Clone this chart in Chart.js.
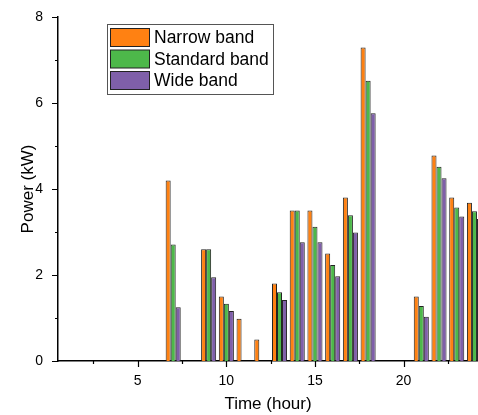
<!DOCTYPE html>
<html>
<head>
<meta charset="utf-8">
<script src="https://cdn.jsdelivr.net/npm/chart.js@4"></script>
<style>
  html, body { margin: 0; padding: 0; background: #fff; overflow: hidden; }
  #wrap { width: 478px; height: 415px; }
</style>
</head>
<body>
<div id="wrap"><canvas id="powerChart" width="478" height="415"></canvas></div>
<script>
// Data
const hours = [1, 2, 3, 4, 5, 6, 7, 8, 9, 10, 11, 12, 13, 14, 15, 16, 17, 18, 19, 20, 21, 22, 23, 24];
const narrowBand   = [null, null, null, null, null, null, 4.2, null, 2.6, 1.5, 0.98, 0.5, 1.8, 3.5, 3.5, 2.5, 3.8, 7.29, null, null, 1.5, 4.78, 3.8, 3.68];
const standardBand = [null, null, null, null, null, null, 2.71, null, 2.6, 1.33, null, null, 1.6, 3.5, 3.12, 2.23, 3.39, 6.52, null, null, 1.28, 4.52, 3.57, 3.48];
const wideBand     = [null, null, null, null, null, null, 1.25, null, 1.95, 1.16, null, null, 1.42, 2.76, 2.76, 1.97, 2.99, 5.76, null, null, 1.03, 4.25, 3.36, 3.3];
const xTickValues = [5, 10, 15, 20];
const yTickValues = [0, 2, 4, 6, 8];

const seriesNames = ["Narrow band", "Standard band", "Wide band"];
const seriesColors = ["#FF8112", "#4DB84A", "#7F5FA9"];

const toPoints = arr => hours.map((h, i) => ({ x: h, y: arr[i] }));

// draws outward major/minor ticks like the original plot
const axisTicks = {
    id: "axisTicks",
    afterDraw(chart) {
        const ctx = chart.ctx;
        const xs = chart.scales.x, ys = chart.scales.y;
        const area = chart.chartArea;
        ctx.save();
        ctx.strokeStyle = "#000";
        ctx.lineWidth = 1.2;
        ctx.beginPath();
        for (let v = 2.5; v < 24.5; v += 2.5) {
            const px = Math.round(xs.getPixelForValue(v)) + 0.5;
            const len = (v % 5 === 0) ? 6 : 3;
            ctx.moveTo(px, area.bottom);
            ctx.lineTo(px, area.bottom + len);
        }
        for (let v = 0; v <= 8; v += 1) {
            const py = Math.round(ys.getPixelForValue(v)) + 0.5;
            const len = (v % 2 === 0) ? 6 : 3;
            ctx.moveTo(area.left, py);
            ctx.lineTo(area.left - len, py);
        }
        ctx.stroke();
        ctx.restore();
    }
};

// legend box inside the plot
const boxLegend = {
    id: "boxLegend",
    afterDraw(chart) {
        const ctx = chart.ctx;
        ctx.save();
        ctx.strokeStyle = "#555";
        ctx.lineWidth = 1;
        ctx.strokeRect(107.5, 24.5, 166, 70);
        ctx.font = "17.5px 'Liberation Sans', Arial, sans-serif";
        ctx.textBaseline = "middle";
        seriesNames.forEach((name, i) => {
            const y = 28.5 + i * 21.5;
            ctx.fillStyle = seriesColors[i];
            ctx.fillRect(110.5, y, 39, 18);
            ctx.strokeStyle = "#222";
            ctx.strokeRect(110.5, y, 39, 18);
            ctx.fillStyle = "#000";
            ctx.fillText(name, 154, y + 10);
        });
        ctx.restore();
    }
};

new Chart(document.getElementById("powerChart"), {
    type: "bar",
    data: {
        datasets: seriesNames.map((name, i) => ({
            label: name,
            data: toPoints([narrowBand, standardBand, wideBand][i]),
            backgroundColor: seriesColors[i],
            borderColor: "#222",
            borderWidth: 1,
            borderSkipped: "start",
            barPercentage: 1,
            categoryPercentage: 0.85
        }))
    },
    options: {
        responsive: false,
        animation: false,
        layout: { padding: { top: 17, right: 0, left: 0, bottom: 0 } },
        plugins: {
            legend: { display: false },
            tooltip: { enabled: false }
        },
        scales: {
            x: {
                type: "linear",
                min: 0.5,
                max: 24.2,
                offset: false,
                afterBuildTicks: s => { s.ticks = xTickValues.map(v => ({ value: v })); },
                afterFit: s => { s.height = 54; },
                grid: { display: false },
                border: { display: true, color: "#000", width: 1.5 },
                ticks: {
                    color: "#000",
                    padding: 4,
                    maxRotation: 0,
                    font: { family: "'Liberation Sans', Arial, sans-serif", size: 14 }
                },
                title: {
                    display: true,
                    text: "Time (hour)",
                    color: "#000",
                    padding: { top: 2, bottom: 0 },
                    font: { family: "'Liberation Sans', Arial, sans-serif", size: 17 }
                }
            },
            y: {
                min: 0,
                max: 8,
                afterBuildTicks: s => { s.ticks = yTickValues.map(v => ({ value: v })); },
                afterFit: s => { s.width = 58; },
                grid: { display: false },
                border: { display: true, color: "#000", width: 1.5 },
                ticks: {
                    color: "#000",
                    padding: 7,
                    font: { family: "'Liberation Sans', Arial, sans-serif", size: 14 }
                },
                title: {
                    display: true,
                    text: "Power (kW)",
                    color: "#000",
                    padding: { top: 18, bottom: 0 },
                    font: { family: "'Liberation Sans', Arial, sans-serif", size: 17 }
                }
            }
        }
    },
    plugins: [axisTicks, boxLegend]
});
</script>
</body>
</html>
